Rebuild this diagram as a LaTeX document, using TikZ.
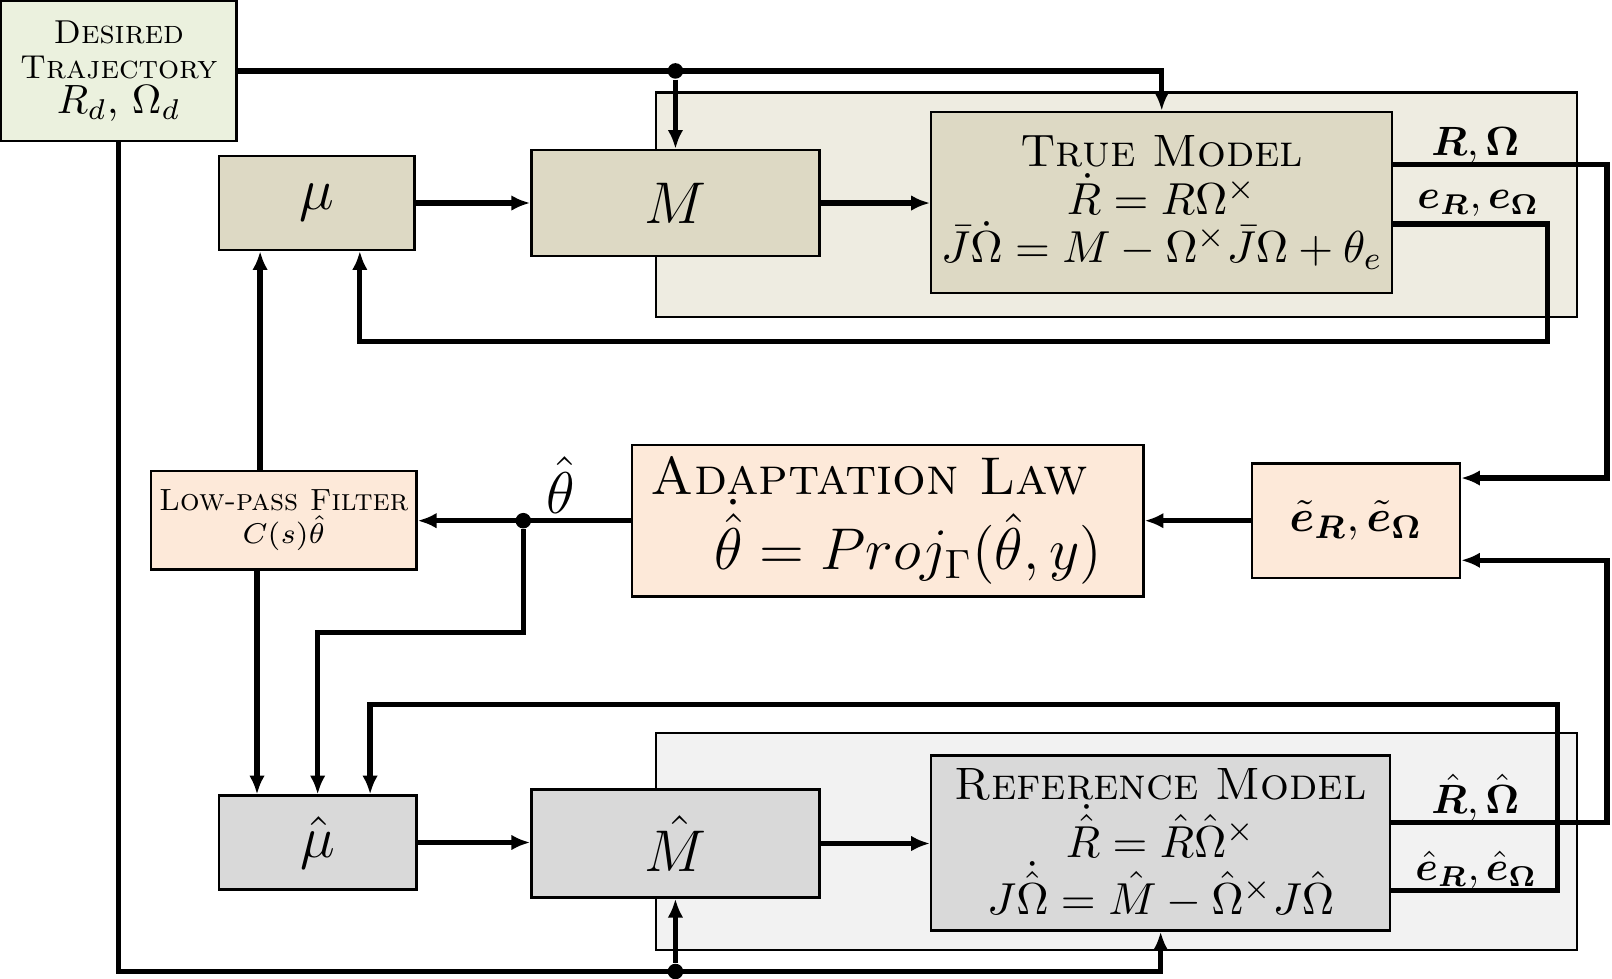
\documentclass[tikz,border=0pt]{standalone}
\usepackage{amsmath,bm}
\usetikzlibrary{arrows.meta}
\definecolor{trajgreen}{HTML}{EBF1DE}
\definecolor{modeltan}{HTML}{DDD9C4}
\definecolor{outertan}{HTML}{EEECE1}
\definecolor{adaptpeach}{HTML}{FDE9D9}
\definecolor{hatgray}{HTML}{D9D9D9}
\definecolor{outergray}{HTML}{F2F2F2}
\tikzset{
  blk/.style={draw, line width=0.6pt, inner sep=1pt, align=center},
  outerblk/.style={draw, line width=0.5pt},
  wire/.style={->, line width=1.3pt},
  junction/.style={circle, fill, inner sep=0pt, minimum size=3.8pt},
}
\begin{document}
\begin{tikzpicture}[x=0.00884cm, y=-0.00884cm, >={Latex[length=4.6pt,width=3.8pt]}]
\useasboundingbox (0,0) rectangle (1568,952);

\node[outerblk, fill=outertan, minimum width=225.3pt, minimum height=54.8pt] (trueouter) at (1086,199) {};
\node[outerblk, fill=outergray, minimum width=225.3pt, minimum height=53.1pt] (refouter) at (1086,818.5) {};

\node[blk, fill=trajgreen, minimum width=57.6pt, minimum height=34.2pt, font=\fontsize{8.1}{8.5}\selectfont] (traj) at (115.5,69)
  {\textsc{Desired}\\ \textsc{Trajectory}\\ \fontsize{10}{10}\selectfont $R_d$, $\Omega_d$};

\node[blk, fill=modeltan, minimum width=47.8pt, minimum height=22.9pt, font=\fontsize{13.6}{14}\selectfont] (mu) at (308,197.5) {$\mu$};
\node[blk, fill=modeltan, minimum width=70.4pt, minimum height=25.9pt, font=\fontsize{13.6}{14}\selectfont] (M) at (657,197.5) {$M$};
\node[blk, fill=modeltan, minimum width=112.7pt, minimum height=44.3pt, font=\fontsize{11.1}{11.8}\selectfont] (true) at (1130,197)
  {\textsc{True Model}\\ $\dot R = R\Omega^\times$\\ $\bar J\dot\Omega = M - \Omega^\times\bar J\Omega + \theta_e$};

\node[blk, fill=adaptpeach, minimum width=64.9pt, minimum height=24.1pt, font=\fontsize{7.5}{8}\selectfont] (LPF) at (276,506)
  {\textsc{Low-pass Filter}\\ $C(s)\hat\theta$};
\node[blk, fill=adaptpeach, minimum width=125pt, minimum height=37pt, font=\fontsize{13}{13}\selectfont] (AL) at (863.5,506.5)
  {\textsc{Adaptation Law}\hspace*{9pt}\\ \fontsize{14.6}{14}\selectfont\hspace*{10pt}$\dot{\hat\theta} = Proj_\Gamma(\hat\theta, y)$};
\node[blk, fill=adaptpeach, minimum width=50.8pt, minimum height=27.9pt, font=\fontsize{11.3}{12}\selectfont] (etilde) at (1319,506.5)
  {$\tilde{\bm e}_{\bm R},\tilde{\bm e}_{\bm\Omega}$};

\node[blk, fill=hatgray, minimum width=48.3pt, minimum height=22.9pt, font=\fontsize{13.6}{14}\selectfont] (muhat) at (309,819.5) {$\hat\mu$};
\node[blk, fill=hatgray, minimum width=70.4pt, minimum height=26.4pt, font=\fontsize{13.6}{14}\selectfont] (Mhat) at (657,820.5) {$\hat M$};
\node[blk, fill=hatgray, minimum width=112.2pt, minimum height=42.8pt, font=\fontsize{11.1}{11.8}\selectfont] (ref) at (1129,820)
  {\textsc{Reference Model}\\ $\dot{\hat R} = \hat R\hat\Omega^\times$\\ $J\dot{\hat\Omega} = \hat M - \hat\Omega^\times J\hat\Omega$};

\node (lblR) at (1435,141) {$\bm{R},\bm{\Omega}$};
\node (lble) at (1438,198) {$\bm{e}_{\bm R},\bm{e}_{\bm\Omega}$};
\node (lblRhat) at (1435,776) {$\hat{\bm R},\hat{\bm\Omega}$};
\node (lblehat) at (1436,846) {$\hat{\bm e}_{\bm R},\hat{\bm e}_{\bm\Omega}$};
\node[font=\Large] (lbltheta) at (545,472) {$\hat\theta$};

\draw[wire] (traj.east) -| (true.north);
\node[junction] (jtop) at (M.north |- traj.east) {};
\draw[wire] (jtop) -- (M.north);
\draw[wire] (mu.east) -- (mu.east -| M.west);
\draw[wire] (M.east) -- (M.east -| true.west);
\draw[wire] (true.east |- 0,160) -| (1563,465) -- (etilde.east |- 0,465);
\draw[wire] (true.east |- 0,218) -| (1505,332) -| (mu.south -| 350,0);

\draw[wire] (LPF.north -| 253,0) -- (mu.south -| 253,0);
\draw[wire] (LPF.south -| 250,0) -- (muhat.north -| 250,0);
\draw[wire] (AL.west) -- (AL.west -| LPF.east);
\node[junction] (jtheta) at (AL.west -| 509,0) {};
\draw[wire] (jtheta) -- (509,615) -| (muhat.north);
\draw[wire] (etilde.west) -- (etilde.west -| AL.east);

\draw[wire] (ref.east |- 0,800) -| (1563,545) -- (etilde.east |- 0,545);
\draw[wire] (ref.east |- 0,866) -| (1515,685) -| (muhat.north -| 360,0);
\draw[wire] (muhat.east) -- (muhat.east -| Mhat.west);
\draw[wire] (Mhat.east) -- (Mhat.east -| ref.west);

\draw[wire] (traj.south) |- (ref.south |- 0,945) -- (ref.south);
\node[junction] (jbot) at (Mhat.south |- 0,945) {};
\draw[wire] (jbot) -- (Mhat.south);
\end{tikzpicture}
\end{document}
